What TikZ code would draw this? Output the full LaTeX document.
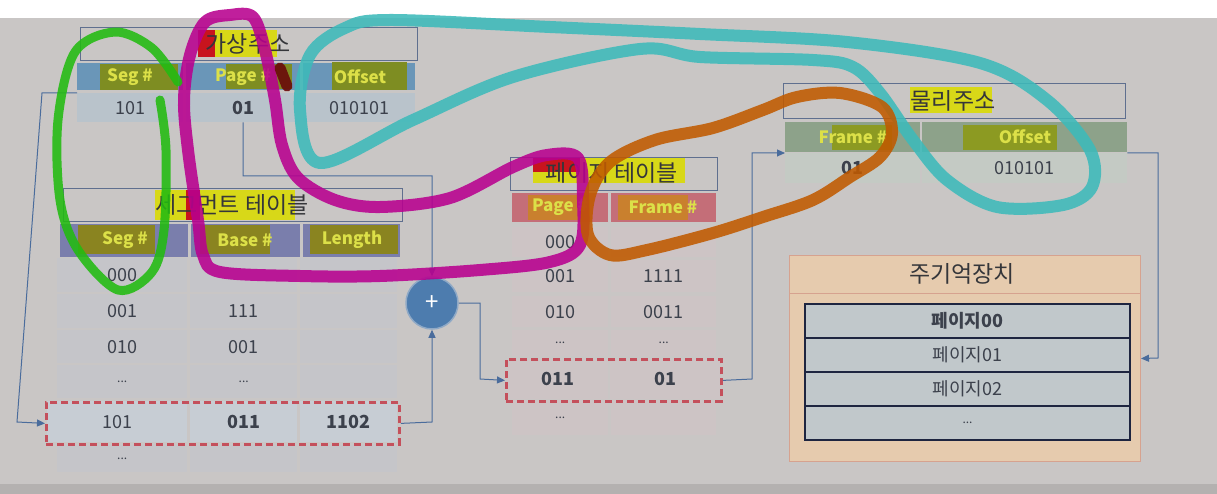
\documentclass[tikz,border=0pt]{standalone}
\usepackage{fontspec}
\setmainfont{Noto Sans CJK KR}
\usetikzlibrary{arrows.meta}
\definecolor{cBg}{HTML}{C9C6C5}
\definecolor{cBand}{HTML}{B4B1B0}
\definecolor{cBox}{HTML}{5F6F8F}
\definecolor{cLine}{HTML}{4A6C9C}
\definecolor{cText}{HTML}{3C414C}
\definecolor{cTitle}{HTML}{35363A}
\definecolor{cVH}{HTML}{6A96B8}
\definecolor{cVR}{HTML}{B9C3CB}
\definecolor{cOliveB}{HTML}{7E8D22}
\definecolor{cHiT}{HTML}{DCE048}
\definecolor{cSH}{HTML}{7A7EAC}
\definecolor{cOliveP}{HTML}{8A8420}
\definecolor{cSR}{HTML}{C5C5C9}
\definecolor{cSR2}{HTML}{C7CDD4}
\definecolor{cPH}{HTML}{C46E78}
\definecolor{cOrgP}{HTML}{C9802E}
\definecolor{cPR}{HTML}{CDC4C5}
\definecolor{cGH}{HTML}{8DA28A}
\definecolor{cOliveG}{HTML}{8C9A22}
\definecolor{cGR}{HTML}{C4CAC4}
\definecolor{cMem}{HTML}{E6CBAE}
\definecolor{cMemB}{HTML}{D6A28F}
\definecolor{cMemR}{HTML}{C1C8CB}
\definecolor{cMemL}{HTML}{1E2540}
\definecolor{cCirc}{HTML}{4D7CAE}
\definecolor{cCircB}{HTML}{8FA9C6}
\definecolor{cYel}{HTML}{D8D818}
\definecolor{cRed}{HTML}{C8141E}
\definecolor{cDash}{HTML}{C4505C}
\definecolor{cGreen}{HTML}{22BB11}
\definecolor{cMag}{HTML}{B8008F}
\definecolor{cCyan}{HTML}{3DBABA}
\definecolor{cOrange}{HTML}{C05A00}
\definecolor{cDRed}{HTML}{6B0A0A}
\tikzset{
  conn/.style={draw=cLine, line width=1pt, -{Triangle[length=8pt,width=7pt]}},
  dat/.style={font=\fontsize{18}{20}\selectfont, text=cText, inner sep=0, anchor=north west},
  datb/.style={dat, font=\bfseries\fontsize{18}{20}\selectfont},
  dots/.style={font=\fontsize{12}{14}\selectfont},
  hdr/.style={font=\bfseries\fontsize{17}{19}\selectfont, text=cHiT, inner sep=0},
  ttl/.style={font=\fontsize{23}{25}\selectfont, text=cTitle, inner sep=0},
  titlebox/.style={draw=cBox, line width=1pt, inner sep=0, anchor=north west},
  selbox/.style={draw=cDash, line width=2.8pt, dash pattern=on 7pt off 4pt, inner sep=0, anchor=north west},
  pen/.style={line width=12pt, line cap=round, line join=round, opacity=0.88},
}
\begin{document}
\begin{tikzpicture}[x=1pt,y=-1pt]
\useasboundingbox (0,0) rectangle (1217,494);
\fill[cBg] (0,0) rectangle (1217,494);
\fill[white] (0,0) rectangle (1217,18);
\fill[cBand] (0,484) rectangle (1217,494);

% ================= virtual address =================
\fill[cYel] (213,30) rectangle (277,57);
\fill[cRed] (198,30) rectangle (215,57);
\node[titlebox, minimum width=337pt, minimum height=33pt] (vtitle) at (80,27) {};
\node[ttl] (vtt) at (248,44) {가상주소};
\fill[cVH] (77,63) rectangle (183,90);
\fill[cVH] (186,63) rectangle (300,90);
\fill[cVH] (303,63) rectangle (415,90);
\fill[cOliveB] (100,64) rectangle (178,90);
\fill[cOliveB] (226,64) rectangle (292,89);
\fill[cOliveB] (332,62) rectangle (407,90);
\node[hdr] (vh1) at (130,77) {Seg \#};
\node[hdr] (vh2) at (243,77) {Page \#};
\node[hdr] (vh3) at (360,77) {Offset};
\node[dat, fill=cVR, minimum width=106pt, minimum height=29pt] (vr1) at (77,93) {101};
\node[datb, fill=cVR, minimum width=114pt, minimum height=29pt] (vr2) at (186,93) {01};
\node[dat, fill=cVR, minimum width=112pt, minimum height=29pt] (vr3) at (303,93) {010101};

% ================= segment table =================
\fill[cYel] (155,190) rectangle (295,220);
\fill[cRed] (186,190) rectangle (200,220);
\node[titlebox, minimum width=339pt, minimum height=33pt] (stitle) at (63,188) {};
\node[ttl] (stt) at (232,205) {세그먼트 테이블};
\fill[cSH] (60,224) rectangle (188,257);
\fill[cSH] (191,224) rectangle (300,257);
\fill[cSH] (303,224) rectangle (400,257);
\fill[cOliveP] (78,225) rectangle (155,254);
\fill[cOliveP] (200,225) rectangle (270,254);
\fill[cOliveP] (310,225) rectangle (398,254);
\node[hdr] (sh1) at (125,240) {Seg \#};
\node[hdr] (sh2) at (245,240) {Base \#};
\node[hdr] (sh3) at (352,240) {Length};
% rows
\node[dat, fill=cSR, minimum width=130pt, minimum height=34pt] (s11) at (57,258) {000};
\node[dat, fill=cSR, minimum width=107pt, minimum height=34pt] (s12) at (190,258) {};
\node[dat, fill=cSR, minimum width=97pt, minimum height=34pt] (s13) at (300,258) {};
\node[dat, fill=cSR, minimum width=130pt, minimum height=34pt] (s21) at (57,294) {001};
\node[dat, fill=cSR, minimum width=107pt, minimum height=34pt] (s22) at (190,294) {111};
\node[dat, fill=cSR, minimum width=97pt, minimum height=34pt] (s23) at (300,294) {};
\node[dat, fill=cSR, minimum width=130pt, minimum height=33pt] (s31) at (57,330) {010};
\node[dat, fill=cSR, minimum width=107pt, minimum height=33pt] (s32) at (190,330) {001};
\node[dat, fill=cSR, minimum width=97pt, minimum height=33pt] (s33) at (300,330) {};
\node[dat, dots, fill=cSR, minimum width=130pt, minimum height=33pt] (s41) at (57,365) {...};
\node[dat, dots, fill=cSR, minimum width=107pt, minimum height=33pt] (s42) at (190,365) {...};
\node[dat, fill=cSR, minimum width=97pt, minimum height=33pt] (s43) at (300,365) {};
\node[dat, fill=cSR2, minimum width=140pt, minimum height=41pt] (s51) at (47,401) {101};
\node[datb, fill=cSR2, minimum width=107pt, minimum height=41pt] (s52) at (190,401) {011};
\node[datb, fill=cSR2, minimum width=97pt, minimum height=41pt] (s53) at (300,401) {1102};
\node[dat, dots, fill=cSR, minimum width=130pt, minimum height=27pt] (s61) at (57,445) {...};
\node[dat, fill=cSR, minimum width=107pt, minimum height=27pt] (s62) at (190,445) {};
\node[dat, fill=cSR, minimum width=97pt, minimum height=27pt] (s63) at (300,445) {};
\node[selbox, minimum width=353pt, minimum height=42pt] (segsel) at (45,401) {};

% ================= adder =================
\node[circle, fill=cCirc, draw=cCircB, line width=1.5pt, minimum size=52pt, inner sep=0,
      text=white, font=\fontsize{24}{24}\selectfont] (plus) at (432,303) {+};

% ================= page table =================
\fill[cYel] (533,158) rectangle (685,183);
\fill[cRed] (533,157) rectangle (580,172);
\node[titlebox, minimum width=207pt, minimum height=33pt] (ptitle) at (510,157) {};
\node[ttl] (ptt) at (612,173) {페이지 테이블};
\fill[cPH] (512,193) rectangle (608,222);
\fill[cPH] (611,193) rectangle (716,222);
\fill[cOrgP] (528,195) rectangle (590,220);
\fill[cOrgP] (618,195) rectangle (688,220);
\node[hdr] (ph1) at (560,207) {Page \#};
\node[hdr] (ph2) at (663,207) {Frame \#};
\node[dat, fill=cPR, minimum width=96pt, minimum height=30pt] (p11) at (512,227) {000};
\node[dat, fill=cPR, minimum width=105pt, minimum height=30pt] (p12) at (611,227) {};
\node[dat, fill=cPR, minimum width=96pt, minimum height=32pt] (p21) at (512,260) {001};
\node[dat, fill=cPR, minimum width=105pt, minimum height=32pt] (p22) at (611,260) {1111};
\node[dat, fill=cPR, minimum width=96pt, minimum height=31pt] (p31) at (512,296) {010};
\node[dat, fill=cPR, minimum width=105pt, minimum height=31pt] (p32) at (611,296) {0011};
\node[dat, dots, fill=cPR, minimum width=96pt, minimum height=26pt] (p41) at (512,330) {...};
\node[dat, dots, fill=cPR, minimum width=105pt, minimum height=26pt] (p42) at (611,330) {...};
\node[datb, fill=cPR, minimum width=101pt, minimum height=40pt] (p51) at (507,359) {011};
\node[datb, fill=cPR, minimum width=110pt, minimum height=40pt] (p52) at (610,359) {01};
\node[dat, dots, fill=cPR, minimum width=96pt, minimum height=35pt] (p61) at (512,400) {...};
\node[dat, fill=cPR, minimum width=105pt, minimum height=35pt] (p62) at (611,400) {};
\node[selbox, minimum width=215pt, minimum height=42pt] (pgsel) at (505,358) {};

% ================= physical address =================
\fill[cYel] (910,87) rectangle (992,113);
\node[titlebox, minimum width=342pt, minimum height=35pt] (rtitle) at (783,83) {};
\node[ttl] (rtt) at (953,101) {물리주소};
\fill[cGH] (785,122) rectangle (920,152);
\fill[cGH] (922,122) rectangle (1127,152);
\fill[cOliveG] (832,125) rectangle (892,150);
\fill[cOliveG] (963,125) rectangle (1057,150);
\node[hdr] (rh1) at (853,137) {Frame \#};
\node[hdr] (rh2) at (1025,137) {Offset};
\node[datb, fill=cGR, minimum width=135pt, minimum height=30pt] (pr1) at (785,153) {01};
\node[dat, fill=cGR, minimum width=205pt, minimum height=30pt] (pr2) at (922,153) {010101};

% ================= main memory =================
\node[draw=cMemB, fill=cMem, line width=1pt, minimum width=351pt, minimum height=206pt,
      inner sep=0, anchor=north west] (mem) at (789,255) {};
\draw[cMemB, line width=1pt] (mem.west |- 0,293) -- (mem.east |- 0,293);
\node[ttl] (mtt) at (962,274) {주기억장치};
\tikzset{memrow/.style={draw=cMemL, fill=cMemR, line width=2pt, minimum width=325pt,
      inner sep=0, anchor=north west, text=cText, font=\fontsize{18}{20}\selectfont}}
\node[memrow, minimum height=34pt, font=\bfseries\fontsize{18}{20}\selectfont] (m0) at (804,303) {페이지00};
\node[memrow, minimum height=34pt] (m1) at (804,337) {페이지01};
\node[memrow, minimum height=34pt] (m2) at (804,371) {페이지02};
\node[memrow, minimum height=34pt, font=\fontsize{12}{14}\selectfont] (m3) at (804,405) {...};

% ================= connectors =================
\draw[conn] (vr1.north west) -- (42,93) -- (17,422) -- (segsel.west);
\draw[conn] (vr2.south) -- (243,176) -- (432,176) -- (plus.north);
\draw[conn] (segsel.east) -- (432,422) -- (plus.south);
\draw[conn] (plus.east) -- (480,303) -- (480,379) -- (pgsel.west);
\draw[conn] (pgsel.east) -- (752,379) -- (752,153) -- (pr1.north west);
\draw[conn] (pr2.north east) -- (1158,153) -- (1158,358) -- (mem.east);

% ================= hand-drawn annotations =================
\draw[pen, cCyan] plot[smooth cycle, tension=0.55] coordinates {
  (320,163) (300,110) (310,55) (345,28) (390,20) (550,27) (700,34) (847,42)
  (980,63) (1047,100) (1090,150) (1092,187) (1063,205) (997,207) (947,180)
  (913,140) (880,93) (853,67) (813,60) (700,57) (640,49) (513,77) (413,120)};
\draw[pen, cMag] plot[smooth cycle, tension=0.55] coordinates {
  (253,17) (265,50) (275,100) (282,145) (298,178) (335,200) (380,207) (450,198)
  (513,167) (547,155) (578,158) (583,200) (580,245) (550,262) (480,270) (380,276)
  (300,276) (220,272) (203,255) (198,220) (188,150) (184,100) (190,55) (205,22) (230,15)};
\draw[pen, cOrange] plot[smooth cycle, tension=0.55] coordinates {
  (610,255) (647,250) (713,233) (763,217) (813,200) (850,177) (880,157) (892,133)
  (882,107) (840,93) (797,97) (763,110) (713,128) (655,140) (610,162) (590,195) (588,235)};
\draw[pen, cGreen, line width=9pt] plot[smooth, tension=0.55] coordinates {
  (178,82) (152,48) (115,32) (75,52) (58,120) (60,200) (78,250) (118,290)
  (152,272) (164,230) (166,150) (160,100)};
\draw[cDRed, line width=11pt, line cap=round, opacity=0.9] (280,68) -- (287,86);
\end{tikzpicture}
\end{document}
